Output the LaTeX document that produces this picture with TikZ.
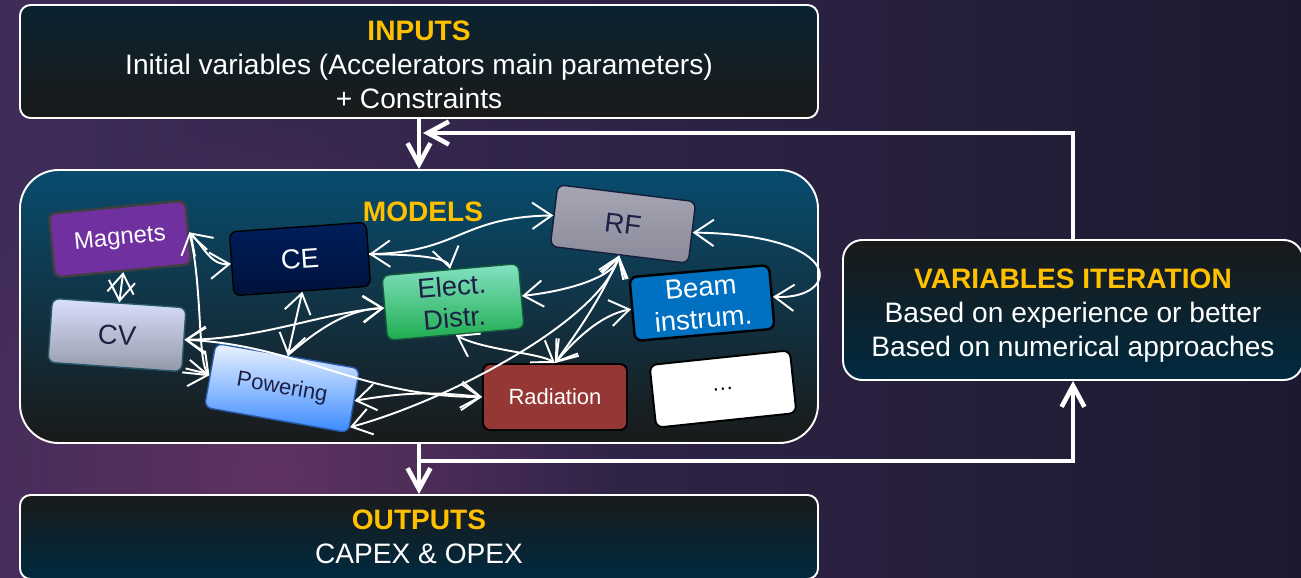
\documentclass[tikz,border=0pt]{standalone}
\usepackage{fontspec}
\setmainfont{Liberation Sans}
\usetikzlibrary{arrows.meta,fadings}

\definecolor{gold}{RGB}{255,192,0}
\definecolor{bgleft}{RGB}{64,44,90}
\definecolor{bgright}{RGB}{28,26,48}
\definecolor{glow}{RGB}{100,52,100}
\definecolor{ink}{RGB}{28,32,68}
\definecolor{deep}{RGB}{0,42,64}
\definecolor{coal}{RGB}{26,26,26}

\tikzfading[name=glowfade, inner color=transparent!10, outer color=transparent!100]

\tikzset{
  bigbox/.style={draw=white, line width=1.1pt, rounded corners=6pt, text=white, align=center,
    font=\fontsize{16}{19.3}\selectfont},
  model/.style={rounded corners=4pt, align=center, line width=0.8pt,
    minimum width=2.74cm, minimum height=1.28cm, font=\fontsize{15.6}{18}\selectfont},
  bigarrow/.style={white, line width=2.6pt, -{Straight Barb[length=12pt,width=13pt]}},
}

\begin{document}
\begin{tikzpicture}[>={Straight Barb[length=11pt,width=15pt]}]
  \clip (0,0) rectangle (26.02,11.54);
  \shade[left color=bgleft, right color=bgright] (0,0) rectangle (26.02,11.54);
  \fill[glow, path fading=glowfade] (5.4,2.1) circle (7cm);

  % Nodes
  \node[bigbox, minimum width=15.96cm, minimum height=2.26cm, top color=deep!60!coal, bottom color=coal] (in) at (8.38,10.31)
    {\rule{0pt}{14.5pt}\textcolor{gold}{\textbf{INPUTS}}\\Initial variables (Accelerators main parameters)\\+ Constraints};
  \node[bigbox, rounded corners=22pt, minimum width=15.96cm, minimum height=5.46cm,
    top color={rgb,255:red,8;green,76;blue,110}, bottom color=coal] (mod) at (8.38,5.41) {};
  \node[bigbox, minimum width=15.96cm, minimum height=1.68cm, top color=coal, bottom color=deep] (out) at (8.38,0.8)
    {\textcolor{gold}{\textbf{OUTPUTS}}\\CAPEX \& OPEX};
  \node[bigbox, rounded corners=11pt, minimum width=9.2cm, minimum height=2.8cm, top color=coal, bottom color=deep] (var) at (21.46,5.34)
    {\rule{0pt}{18pt}\textcolor{gold}{\textbf{VARIABLES ITERATION}}\\Based on experience or better\\Based on numerical approaches};

  \node[text=gold, font=\fontsize{16}{19}\selectfont\bfseries] (title) at (8.46,7.31) {MODELS};

  \node[model, rotate=5.5, fill={rgb,255:red,112;green,48;blue,160}, draw={rgb,255:red,64;green,64;blue,64},
    line width=1.4pt, text=white, font=\fontsize{13.6}{16}\selectfont] (mag) at (2.40,6.76) {Magnets};
  \node[model, rotate=4, top color={rgb,255:red,0;green,30;blue,92}, bottom color={rgb,255:red,0;green,18;blue,58},
    draw=black, text=white] (ce) at (6.00,6.36) {CE};
  \node[model, rotate=-4, minimum width=2.68cm, top color={rgb,255:red,218;green,225;blue,252}, bottom color={rgb,255:red,148;green,152;blue,168},
    draw={rgb,255:red,40;green,90;blue,110}, text=ink] (cv) at (2.34,4.84) {CV};
  \node[model, rotate=-10, minimum width=2.92cm, minimum height=1.3cm, top color={rgb,255:red,236;green,243;blue,255},
    bottom color={rgb,255:red,58;green,138;blue,255}, draw={rgb,255:red,40;green,90;blue,170}, text=ink,
    font=\fontsize{12.5}{15}\selectfont] (pow) at (5.64,3.78) {Powering};
  \node[model, rotate=5, minimum height=1.3cm, top color={rgb,255:red,132;green,226;blue,196},
    bottom color={rgb,255:red,30;green,172;blue,78}, draw={rgb,255:red,20;green,90;blue,60}, text=ink] (el) at (9.06,5.50) {Elect.\\Distr.};
  \node[model, rotate=-7, minimum width=2.78cm, minimum height=1.24cm, top color={rgb,255:red,166;green,166;blue,180},
    bottom color={rgb,255:red,138;green,138;blue,154}, draw={rgb,255:red,20;green,30;blue,60}, text=ink] (rf) at (12.46,7.06) {RF};
  \node[model, rotate=5, minimum width=2.8cm, fill={rgb,255:red,0;green,112;blue,192}, draw=black, line width=1.4pt,
    text=white] (beam) at (14.04,5.48) {Beam\\instrum.};
  \node[model, minimum width=2.88cm, minimum height=1.32cm, fill={rgb,255:red,149;green,55;blue,53}, draw=black,
    line width=1.1pt, text=white, font=\fontsize{12.5}{15}\selectfont] (rad) at (11.10,3.60) {Radiation};
  \node[model, rotate=6, minimum width=2.82cm, minimum height=1.26cm, fill=white, draw=black, line width=1.1pt,
    text=black, font=\fontsize{12.5}{15}\selectfont] (dots) at (14.46,3.76) {\dots};

  \coordinate (fb) at (8.46,8.88);
  \coordinate (split) at (8.38,2.32);

  % Edges
  \draw[bigarrow] (in.south) -- (mod.north);
  \draw[bigarrow] (mod.south) -- (out.north);
  \draw[bigarrow] (var.north) |- (fb);
  \draw[bigarrow] (split) -| (var.south);

  \begin{scope}[white, line width=1.1pt]
    \draw[<->] (mag.east) to[out=-45,in=185] (ce.west);
    \draw[<->] (mag.south) -- (cv.north);
    \draw[<->] (mag.east) .. controls (4.05,5.8) and (3.95,4.3) .. (pow.west);
    \draw[->] (cv.south east) -- (pow.west);
    \draw[<->] (ce.east) .. controls (9.2,6.5) and (9.2,7.2) .. (rf.west);
    \draw[->] (ce.east) .. controls (8.3,6.45) and (8.95,6.4) .. (el.north);
    \draw[<->] (ce.south) -- (pow.north);
    \draw[<->] (cv.east) .. controls (5.2,4.75) and (6.5,5.3) .. (el.west);
    \draw[->] (pow.north) .. controls (6.3,4.9) and (6.9,5.35) .. (el.west);
    \draw[<->] (cv.east) .. controls (6.0,4.64) and (7.2,3.6) .. (rad.west);
    \draw[<->] (pow.east) to[bend left=8] (rad.west);
    \draw[<->] (pow.-20) .. controls (9.0,3.54) and (12.0,5.14) .. (rf.south);
    \draw[<->] (el.east) .. controls (11.5,5.74) and (12.3,6.04) .. (rf.south);
    \draw[<->] (rf.east) .. controls (17.0,6.84) and (16.8,5.54) .. (beam.east);
    \draw[<->] (rad.north) .. controls (11.5,4.74) and (12.0,5.24) .. (beam.west);
    \draw[<->] (el.south) .. controls (9.66,4.54) and (10.8,4.48) .. (rad.north);
    \draw[<->] (rf.south) .. controls (12.0,5.5) and (11.4,4.7) .. (rad.north);
  \end{scope}
\end{tikzpicture}
\end{document}
